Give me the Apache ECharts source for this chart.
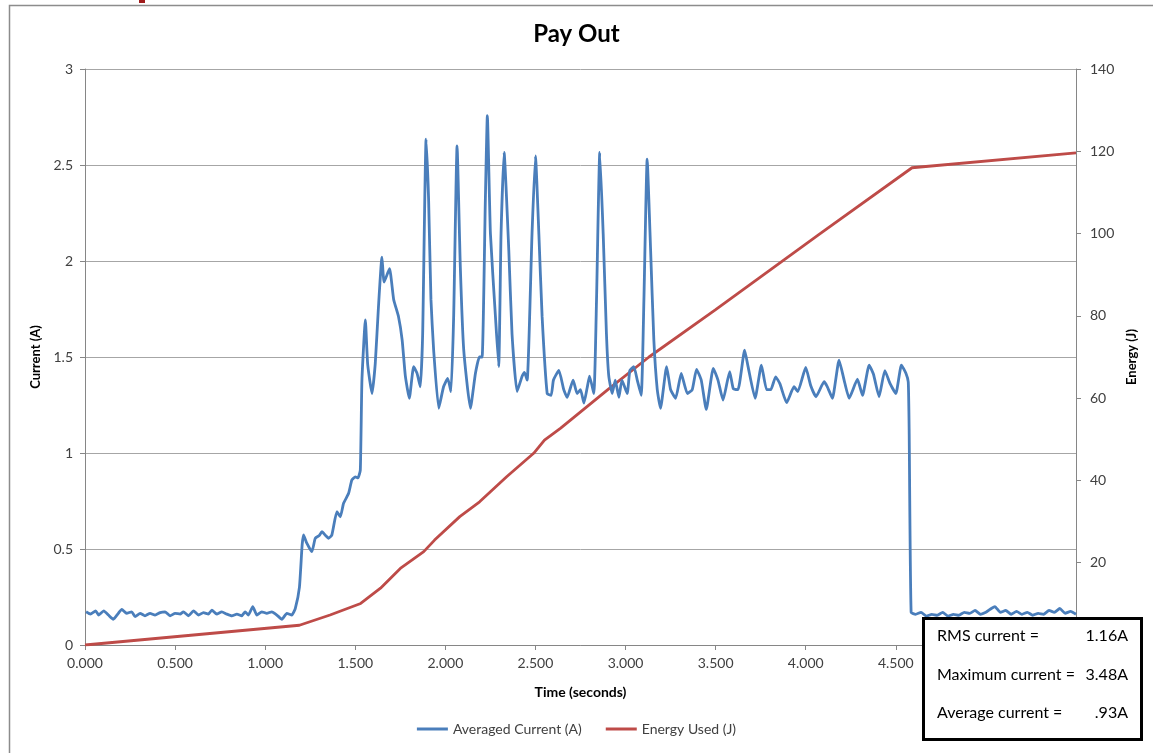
<!DOCTYPE html>
<html>
<head>
<meta charset="utf-8">
<script src="https://cdn.jsdelivr.net/npm/echarts@6/dist/echarts.min.js"></script>
<style>
html,body{margin:0;padding:0;background:#fff;}
#c{width:1153px;height:753px;}
</style>
</head>
<body>
<div id="c"></div>
<script>
// ---- data ----
var currentTime = [0.006,0.03,0.059,0.076,0.104,0.13,0.157,0.185,0.204,0.231,0.259,0.278,0.306,0.333,0.361,0.389,0.417,0.444,0.472,0.5,0.528,0.546,0.574,0.602,0.63,0.657,0.685,0.704,0.731,0.759,0.787,0.815,0.843,0.87,0.889,0.907,0.931,0.954,0.981,1.009,1.037,1.065,1.093,1.12,1.148,1.167,1.19,1.205,1.213,
1.231,1.259,1.278,1.3,1.315,1.335,1.352,1.37,1.398,1.417,1.435,1.463,1.481,1.5,1.515,1.528,1.537,1.556,1.569,1.593,1.611,1.628,1.648,1.66,1.69,1.713,1.74,1.76,1.778,1.8,1.824,1.843,1.861,1.874,1.893,1.907,1.92,1.935,1.963,1.99,2.013,2.031,2.046,2.065,2.083,2.102,2.139,2.167,2.189,2.204,2.222,2.233,2.25,2.278,2.296,2.309,2.326,2.352,2.37,2.398,2.426,2.439,2.454,2.481,2.5,2.519,2.537,2.565,2.587,2.6,2.63,2.657,2.676,2.709,2.731,2.75,2.769,2.787,2.8,2.824,2.839,2.857,2.876,2.894,2.907,2.926,2.943,2.963,2.98,3.009,3.024,3.046,3.065,3.087,3.102,3.12,3.139,3.157,3.176,3.194,3.228,3.25,3.278,3.309,3.343,3.37,3.394,3.42,3.448,3.487,3.513,3.541,3.578,3.598,3.624,3.661,3.68,3.719,3.754,3.783,3.806,3.833,3.857,3.894,3.935,3.956,4.0,4.028,4.057,4.102,4.12,4.148,4.185,4.213,4.241,4.287,4.315,4.352,4.376,4.407,4.439,4.469,4.5,4.531,4.556,4.569,4.574,4.585,
4.61,4.64,4.67,4.7,4.73,4.76,4.79,4.82,4.85,4.88,4.91,4.94,4.97,5.0,5.03,5.05,5.08,5.11,5.14,5.17,5.2,5.23,5.26,5.29,5.32,5.35,5.38,5.41,5.44,5.47,5.5];
var currentA = [0.173,0.161,0.178,0.156,0.178,0.156,0.134,0.165,0.186,0.165,0.173,0.148,0.165,0.152,0.165,0.156,0.169,0.173,0.152,0.165,0.161,0.173,0.152,0.178,0.156,0.169,0.161,0.182,0.161,0.173,0.161,0.152,0.161,0.152,0.173,0.156,0.2,0.156,0.173,0.165,0.173,0.156,0.134,0.165,0.156,0.19,0.3,0.52,0.573,
0.53,0.486,0.556,0.57,0.59,0.57,0.556,0.573,0.694,0.668,0.738,0.79,0.859,0.876,0.87,0.911,1.38,1.693,1.46,1.31,1.467,1.75,2.02,1.89,1.96,1.8,1.71,1.59,1.4,1.285,1.45,1.415,1.345,1.62,2.634,2.32,1.8,1.536,1.233,1.345,1.389,1.32,1.71,2.6,1.97,1.536,1.233,1.415,1.5,1.5,2.32,2.757,2.144,1.71,1.45,2.14,2.566,2.057,1.62,1.32,1.4,1.42,1.38,2.144,2.547,2.14,1.71,1.31,1.3,1.38,1.43,1.33,1.29,1.38,1.31,1.33,1.26,1.34,1.4,1.31,1.8,2.566,2.14,1.62,1.4,1.31,1.38,1.29,1.38,1.31,1.43,1.45,1.38,1.3,1.8,2.53,2.06,1.59,1.33,1.233,1.45,1.33,1.285,1.415,1.31,1.33,1.436,1.38,1.227,1.441,1.38,1.276,1.424,1.335,1.33,1.536,1.45,1.285,1.458,1.33,1.33,1.397,1.36,1.262,1.345,1.32,1.446,1.35,1.293,1.371,1.345,1.285,1.484,1.38,1.285,1.384,1.3,1.458,1.41,1.293,1.429,1.36,1.31,1.458,1.415,1.37,1.12,0.17,
0.16,0.17,0.15,0.16,0.155,0.17,0.15,0.16,0.155,0.17,0.165,0.18,0.16,0.17,0.19,0.2,0.17,0.18,0.16,0.175,0.16,0.17,0.155,0.165,0.16,0.18,0.17,0.19,0.165,0.175,0.16];
var energyTime = [0,1.19,1.36,1.53,1.64,1.75,1.88,1.94,2.08,2.19,2.34,2.49,2.55,2.64,2.9,3.13,3.5,4.08,4.59,5.5];
var energyJ    = [0,4.8,7.3,10.1,13.8,18.6,22.7,25.5,31.2,34.8,40.9,46.6,49.8,52.7,62,70,81.5,100,116,119.6];
var seriesNames = ['Averaged Current (A)','Energy Used (J)'];
var statLabels = ['RMS current =','Maximum current =','Average current ='];
var statValues = ['1.16A','3.48A','.93A'];

function pairs(xs, ys){ return xs.map(function(x,i){ return [x, ys[i]]; }); }

var FONT = 'Lato, "Open Sans", sans-serif';
var chart = echarts.init(document.getElementById('c'), null, {renderer:'canvas'});

var statGraphics = [];
statLabels.forEach(function(l,i){
  statGraphics.push({type:'text', left:937, top:628+i*38.5, z:102,
    style:{text:l, font:'16px '+FONT, fill:'#000'}});
  statGraphics.push({type:'text', right:1153-1128, top:628+i*38.5, z:102,
    style:{text:statValues[i], font:'16px '+FONT, fill:'#000', textAlign:'right'}});
});

chart.setOption({
  animation:false,
  backgroundColor:'#fff',
  title:{text:'Pay Out', left:'center', top:17,
    textStyle:{fontFamily:FONT, fontSize:24, fontWeight:'bold', color:'#000'}},
  grid:{left:85, right:77, top:69, bottom:108},
  legend:{data:seriesNames, bottom:12, left:'center', itemGap:24, itemWidth:31, itemHeight:3,
    icon:'rect', textStyle:{fontFamily:FONT, fontSize:14, color:'#404040'}},
  xAxis:{type:'value', min:0, max:5.5, interval:0.5,
    name:'Time (seconds)', nameLocation:'middle', nameGap:40,
    nameTextStyle:{fontFamily:FONT, fontSize:14, fontWeight:'bold', color:'#000'},
    axisLine:{lineStyle:{color:'#868686', width:1}},
    axisTick:{show:true, length:5, lineStyle:{color:'#868686'}},
    axisLabel:{fontFamily:FONT, fontSize:14, color:'#404040', margin:11,
      formatter:function(v){return v.toFixed(3);}},
    splitLine:{show:false}},
  yAxis:[
    {type:'value', min:0, max:3, interval:0.5, position:'left',
      name:'Current (A)', nameLocation:'middle', nameGap:42, nameRotate:90,
      nameTextStyle:{fontFamily:FONT, fontSize:13, fontWeight:'bold', color:'#000'},
      axisLine:{show:true, lineStyle:{color:'#868686'}},
      axisTick:{show:true, length:5, lineStyle:{color:'#868686'}},
      axisLabel:{fontFamily:FONT, fontSize:14, color:'#404040', margin:12},
      splitLine:{show:true, lineStyle:{color:'#a6a6a6', width:1}}},
    {type:'value', min:0, max:140, interval:20, position:'right',
      name:'Energy (J)', nameLocation:'middle', nameGap:46, nameRotate:90,
      nameTextStyle:{fontFamily:FONT, fontSize:13, fontWeight:'bold', color:'#000'},
      axisLine:{show:true, lineStyle:{color:'#868686'}},
      axisTick:{show:true, length:5, lineStyle:{color:'#868686'}},
      axisLabel:{fontFamily:FONT, fontSize:14, color:'#404040', margin:14,
        formatter:function(v){return v===0?'':v;}},
      splitLine:{show:false}}
  ],
  series:[
    {name:seriesNames[0], type:'line', yAxisIndex:0, data:pairs(currentTime,currentA),
      showSymbol:false, symbol:'none', smooth:0.15,
      lineStyle:{color:'#4A7EBB', width:2.8}, itemStyle:{color:'#4A7EBB'}, z:3},
    {name:seriesNames[1], type:'line', yAxisIndex:1, data:pairs(energyTime,energyJ),
      showSymbol:false, symbol:'none',
      lineStyle:{color:'#BE4B48', width:2.8}, itemStyle:{color:'#BE4B48'}, z:2}
  ],
  graphic:[
    {type:'rect', left:7, top:3, z:0, silent:true,
      shape:{width:1160, height:749}, style:{fill:'none', stroke:'#8c8c8c', lineWidth:1.5}},
    {type:'rect', left:139, top:0, z:1, shape:{width:6, height:3}, style:{fill:'#a01c1c'}},
    {type:'rect', left:922, top:617, z:100,
      shape:{width:218, height:121}, style:{fill:'#fff', stroke:'#000', lineWidth:3}}
  ].concat(statGraphics)
});
</script>
</body>
</html>
